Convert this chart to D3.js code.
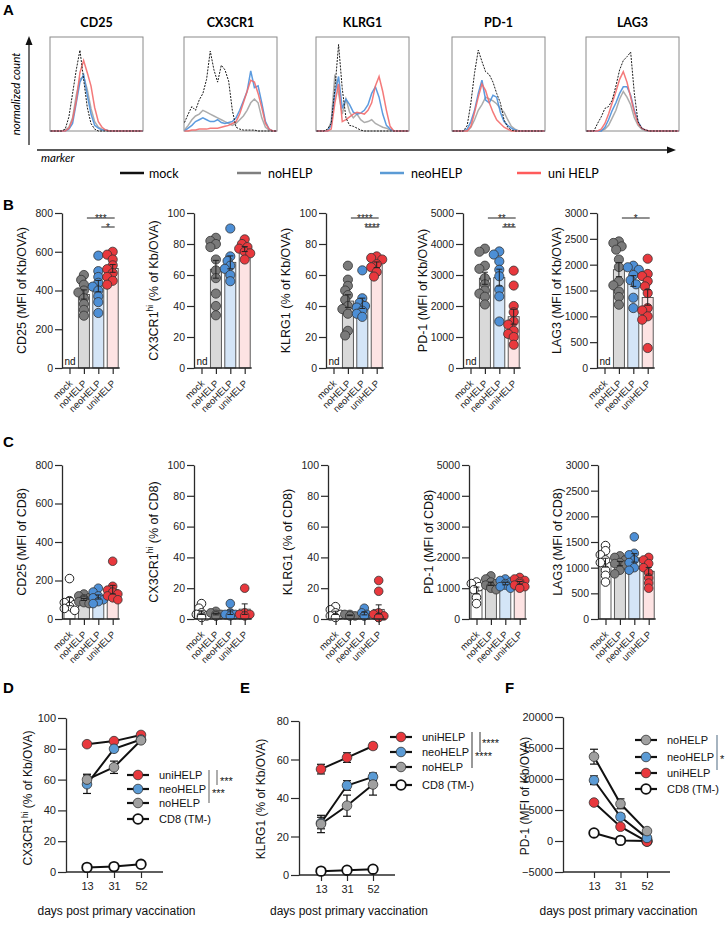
<!DOCTYPE html>
<html><head><meta charset="utf-8">
<script src="https://cdn.jsdelivr.net/npm/d3@7"></script>
<style>
body{margin:0;background:#fff;}
svg{font-family:"Liberation Sans",Arial,sans-serif;}
</style></head><body>
<svg id="fig" width="728" height="925"></svg>
<script>
// ================= DATA =================
const groups = ["mock","noHELP","neoHELP","uniHELP"];
const legendNamesA = ["mock","noHELP","neoHELP","uni HELP"];

// Panel A histograms (normalized count per marker bin)
const histMarkers = ["CD25","CX3CR1","KLRG1","PD-1","LAG3"];
const histBins = [0,4,8,12,16,20,24,28,32,36,40,44,48,52,56,60,64,68,72,76,80,84,88,92,96,100];
const histMock = [
  [0,0,0,0,2,15,40,65,86,55,25,8,2,0,0,0,0,0,0,0,0,0,0,0,0,0],
  [9,18,26,22,33,40,55,85,65,52,70,65,53,22,4,2,1,1,1,1,0,0,0,0,0,0],
  [0,0,0,2,8,45,92,45,14,6,5,3,1,0,0,0,0,0,0,0,0,0,0,0,0,0],
  [0,0,0,0,6,30,62,86,74,63,60,52,40,30,12,4,1,0,0,0,0,0,0,0,0,0],
  [0,0,0,8,15,24,26,33,48,65,75,79,84,40,10,3,1,0,0,0,0,0,0,0,0,0]
];
const histNoHELP = [
  [0,0,0,0,1,4,14,38,55,58,44,24,10,4,2,1,0,0,0,0,0,0,0,0,0,0],
  [1,6,12,16,18,22,20,18,16,14,12,10,8,6,8,12,16,22,30,34,30,14,4,1,0,0],
  [0,0,0,0,10,60,40,18,34,20,14,18,12,9,10,12,8,6,4,3,1,0,0,0,0,0],
  [0,0,0,0,0,4,12,22,28,36,34,32,29,24,20,12,5,2,0,0,0,0,0,0,0,0],
  [0,0,0,0,0,2,6,14,22,34,42,36,28,14,6,2,0,0,0,0,0,0,0,0,0,0]
];
const histNeoHELP = [
  [0,0,0,0,0,2,8,30,52,60,38,18,6,3,1,1,0,0,0,0,0,0,0,0,0,0],
  [0,3,6,10,12,14,12,10,10,12,9,8,9,10,14,22,32,42,64,46,48,30,10,2,0,0],
  [0,0,0,0,6,40,58,24,34,28,20,18,19,22,28,40,47,36,18,6,2,0,0,0,0,0],
  [0,0,0,0,2,10,22,40,54,33,30,38,36,20,10,6,3,1,0,0,0,0,0,0,0,0],
  [0,0,0,0,0,4,12,22,30,40,47,47,38,22,10,3,1,0,0,0,0,0,0,0,0,0]
];
const histUniHELP = [
  [0,0,0,0,0,3,12,32,62,75,62,48,25,10,4,1,0,0,0,0,0,0,0,0,0,0],
  [0,0,1,1,2,2,2,3,3,3,4,5,6,8,10,18,30,42,54,52,40,25,8,2,0,0],
  [0,0,0,0,2,30,50,10,12,15,18,20,19,18,22,30,48,58,42,22,5,0,0,0,0,0],
  [0,0,0,0,0,5,20,36,50,43,30,20,12,8,4,2,0,0,0,0,0,0,0,0,0,0],
  [0,0,0,0,2,8,18,30,42,55,63,52,36,20,8,3,1,0,0,0,0,0,0,0,0,0]
];

// Panel B (Kb/OVA+ cells), order: mock, noHELP, neoHELP, uniHELP (mock not detected)
const bCD25   = [[], [480,455,430,400,390,360,330,300,270], [580,500,470,440,420,400,370,340,284], [600,585,560,530,510,490,470,450,430]];
const bCX3CR1 = [[], [84,82,80,78,70,63,58,48,40,34], [90,72,69,66,64,60,56], [83,80,78,77,75,74,70]];
const bKLRG1  = [[], [66,57,53,50,47,44,40,38,35,24,21], [63,45,42,40,39,37,35,33], [72,71,70,67,65,62,59]];
const bPD1    = [[], [3850,3750,3300,3200,2900,2700,2500,2400,2300,2050], [3760,3660,3440,3170,2960,2530,2310,1500], [3140,2660,2000,1800,1500,1400,1200,1100,1000,750]];
const bLAG3   = [[], [2450,2420,2355,2290,2100,1955,1680,1600,1480,1375,1225], [1980,1950,1900,1800,1700,1620,1360,1160], [2115,1820,1780,1680,1580,1450,1160,1115,1000,935,387]];

// Panel C (total CD8)
const cCD25   = [[210,95,85,75,65,55,45], [130,120,110,105,100,95,90,85,80], [160,140,120,110,100,90,80], [300,170,150,140,130,120,110,100]];
const cCX3CR1 = [[10,7,4,3,2,2,1], [5,4,3,3,2,2], [10,4,3,3,2], [20,4,3,3,2]];
const cKLRG1  = [[8,6,4,3,2,1], [3,3,2,2,2], [7,4,3,2,2], [25,18,4,3,2,1,1,1,1]];
const cPD1    = [[1200,1150,1050,950,700,500], [1400,1300,1200,1150,1100,1050,1000,950], [1300,1250,1200,1150,1100,1050,1000], [1350,1300,1250,1200,1150,1100,1050,1000]];
const cLAG3   = [[1430,1330,1250,1150,1100,950,850,720], [1230,1200,1150,1100,1080,1050,950,880], [1600,1280,1250,1150,1100,1000,950], [1200,1150,1080,1000,900,800,700,600]];

const ticksCD25 = [0,200,400,600,800];
const ticksPct  = [0,20,40,60,80,100];
const ticksPD1  = [0,1000,2000,3000,4000,5000];
const ticksLAG3 = [0,500,1000,1500,2000,2500,3000];

// Panels D-F (time course)
const days = ["13","31","52"];
const dUni = [83,85,89],   dUniErr = [1,1,1];
const dNeo = [57,80,86],   dNeoErr = [6,1.5,1];
const dNo  = [60,68,85.5], dNoErr  = [3.5,4,1];
const dCD8 = [3,3.5,5],    dCD8Err = [0.5,0.5,0.5];
const eUni = [55,61,67],   eUniErr = [2.5,2.5,1.5];
const eNeo = [27,46.5,51], eNeoErr = [3,2.5,2];
const eNo  = [26.5,36,47], eNoErr  = [4.5,5.5,5.5];
const eCD8 = [2,2.5,3],    eCD8Err = [0.5,0.5,1];
const fNo  = [13600,6000,1600], fNoErr  = [1200,800,300];
const fNeo = [9800,3900,500],   fNeoErr = [700,500,200];
const fUni = [6200,2300,-100],  fUniErr = [300,300,100];
const fCD8 = [1300,100,0],      fCD8Err = [200,100,50];

// ================= STYLE =================
const histColor = {mock:"#1c1c1c", noHELP:"#a3a3a3", neoHELP:"#4a90dc", uniHELP:"#f36c6c"};
const legColorA = {mock:"#111", noHELP:"#7f7f7f", neoHELP:"#5b9bd5", uniHELP:"#ff5b5b"};
const ptFill  = {mock:"#ffffff", noHELP:"#7a7a7a", neoHELP:"#4d8fd6", uniHELP:"#e8383d"};
const barFill = {mock:"#ffffff", noHELP:"#d9d9d9", neoHELP:"#d4e5f7", uniHELP:"#fde3e3"};
const lineFill = {noHELP:"#a0a0a0", neoHELP:"#5b9bd5", uniHELP:"#e8383d", CD8:"#ffffff"};
const AX = "#2a2a2a";

const svg = d3.select("#fig");

function panelLetter(t,x,y){
  svg.append("text").attr("x",x).attr("y",y).attr("font-size",15).attr("font-weight","bold").attr("fill","#000").text(t);
}
function yLabel(g,x,cy,parts,size){
  const t = g.append("text").attr("transform",`translate(${x},${cy}) rotate(-90)`)
    .attr("text-anchor","middle").attr("font-size",size).attr("fill","#111");
  parts.forEach((p,i)=>{
    const ts = t.append("tspan").text(p);
    if(i===1) ts.attr("font-size",size*0.68).attr("baseline-shift","super");
  });
}

// ================= PANEL A =================
panelLetter("A",3,15);
const histBoxX = [50,184,316,452,586], boxW = 93, boxTop = 37, boxH = 94;
const histSets = [["noHELP",histNoHELP],["neoHELP",histNeoHELP],["uniHELP",histUniHELP],["mock",histMock]];
histMarkers.forEach((m,i)=>{
  const x = d3.scaleLinear().domain([0,100]).range([histBoxX[i]+0.5, histBoxX[i]+boxW-0.5]);
  const y = d3.scaleLinear().domain([0,100]).range([boxTop+boxH, boxTop]);
  const g = svg.append("g");
  g.append("rect").attr("x",histBoxX[i]).attr("y",boxTop).attr("width",boxW).attr("height",boxH)
    .attr("fill","#fff").attr("stroke","#8a8a8a").attr("stroke-width",1);
  const line = d3.line().x((d,j)=>x(histBins[j])).y(d=>y(d)).curve(d3.curveLinear);
  histSets.forEach(([name,arr])=>{
    g.append("path").datum(arr[i]).attr("d",line).attr("fill","none")
      .attr("stroke",histColor[name]).attr("stroke-width",name==="mock"?1:1.5)
      .attr("stroke-dasharray",name==="mock"?"2,1.2":null).attr("opacity",name==="mock"?1:0.9);
  });
  g.append("text").attr("x",histBoxX[i]+boxW/2).attr("y",27).attr("text-anchor","middle")
    .attr("font-family","Lato, 'Open Sans', sans-serif").attr("font-weight","bold").attr("font-size",12.5).text(m);
});
// axes arrows
svg.append("line").attr("x1",29).attr("x2",29).attr("y1",145).attr("y2",44).attr("stroke","#222").attr("stroke-width",1.3);
svg.append("path").attr("d","M29,36 L25.5,45 L32.5,45 Z").attr("fill","#111");
svg.append("line").attr("x1",37).attr("x2",668).attr("y1",150).attr("y2",150).attr("stroke","#222").attr("stroke-width",1.3);
svg.append("path").attr("d","M676,150 L667,146.5 L667,153.5 Z").attr("fill","#111");
svg.append("text").attr("transform","translate(20,94) rotate(-90)").attr("text-anchor","middle")
  .attr("font-family","Lato, 'Open Sans', sans-serif").attr("font-style","italic").attr("font-size",11.5).text("normalized count");
svg.append("text").attr("x",41).attr("y",162).attr("font-family","Lato, 'Open Sans', sans-serif")
  .attr("font-style","italic").attr("font-size",11.5).text("marker");
// legend A
const legAx = [120,237,380,517];
groups.forEach((grp,i)=>{
  svg.append("line").attr("x1",legAx[i]).attr("x2",legAx[i]+24).attr("y1",173).attr("y2",173)
    .attr("stroke",legColorA[grp]).attr("stroke-width",2.5);
  svg.append("text").attr("x",legAx[i]+(i===0?29:31)).attr("y",177.5).attr("font-family","Lato, 'Open Sans', sans-serif")
    .attr("font-size",12.5).text(legendNamesA[i]);
});

// ================= PANELS B & C =================
function dodge(vals,y,r){
  const placed=[], out=[];
  const order = vals.map((v,i)=>i).sort((a,b)=>vals[b]-vals[a]);
  const offs = [0,-0.6,0.6,-1.2,1.2].map(k=>k*r);
  order.forEach(i=>{
    const py=y(vals[i]); let best=0;
    for(const o of offs){ if(placed.every(p=>Math.hypot(p.x-o,p.y-py)>=r*1.15)){best=o;break;} }
    placed.push({x:best,y:py}); out[i]=best;
  });
  return out;
}
function barChart(s){
  const g = svg.append("g");
  const y = d3.scaleLinear().domain([s.ticks[0], s.ticks[s.ticks.length-1]]).range([s.y0, s.yTop]);
  const x = d3.scalePoint().domain(groups).range([s.ax+7.5, s.ax+7.5+43.2]);
  const r = s.r;
  groups.forEach((grp,i)=>{
    const v = s.vals[i]; if(!v.length) return;
    const m = d3.mean(v);
    g.append("rect").attr("x",x(grp)-5.5).attr("width",11).attr("y",y(m)).attr("height",s.y0-y(m))
      .attr("fill",barFill[grp]).attr("stroke","#4a4a4a").attr("stroke-width",0.9);
  });
  groups.forEach((grp,i)=>{
    const v = s.vals[i]; if(!v.length) return;
    const dx = dodge(v,y,r);
    g.selectAll(null).data(v).join("circle").attr("cx",(d,j)=>x(grp)+dx[j]).attr("cy",d=>y(d)).attr("r",r)
      .attr("fill",ptFill[grp]).attr("stroke",grp==="mock"?"#222":"#333").attr("stroke-width",grp==="mock"?1:0.8);
  });
  groups.forEach((grp,i)=>{
    const v = s.vals[i]; if(v.length<2) return;
    const m = d3.mean(v), se = d3.deviation(v)/Math.sqrt(v.length);
    const xc = x(grp);
    g.append("line").attr("x1",xc).attr("x2",xc).attr("y1",y(m-se)).attr("y2",y(m+se)).attr("stroke","#222").attr("stroke-width",1);
    [m-se,m+se].forEach(e=>g.append("line").attr("x1",xc-3).attr("x2",xc+3).attr("y1",y(e)).attr("y2",y(e)).attr("stroke","#222").attr("stroke-width",1));
  });
  // y axis
  const ya = g.append("g").attr("transform",`translate(${s.ax},0)`)
    .call(d3.axisLeft(y).tickValues(s.ticks).tickSize(7).tickSizeOuter(0).tickPadding(2).tickFormat(d3.format("d")));
  ya.attr("font-family",null).attr("font-size",null);
  ya.select(".domain").attr("stroke",AX).attr("stroke-width",1.3);
  ya.selectAll(".tick line").attr("stroke",AX).attr("stroke-width",1.2);
  ya.selectAll("text").attr("font-size",10.5).attr("fill","#222");
  // x axis
  const xa = g.append("g").attr("transform",`translate(0,${s.y0})`).call(d3.axisBottom(x).tickSize(6).tickSizeOuter(0));
  xa.attr("font-family",null).attr("font-size",null);
  xa.select(".domain").remove();
  xa.selectAll(".tick line").attr("stroke",AX).attr("stroke-width",1.2);
  xa.selectAll("text").attr("x",0).attr("y",0).attr("dy",0).attr("transform","translate(3,16) rotate(-45)")
    .attr("text-anchor","end").attr("font-size",9.5).attr("fill","#222");
  g.append("line").attr("x1",s.ax).attr("x2",x(groups[3])+7).attr("y1",s.y0).attr("y2",s.y0).attr("stroke",AX).attr("stroke-width",1.3);
  if(s.nd) g.append("text").attr("x",s.ax+2.5).attr("y",s.y0-3).attr("font-size",10).attr("fill","#111").text("nd");
  // significance
  (s.sig||[]).forEach(sg=>{
    const ly = s.yTop + 5 + sg.level*9;
    const x1 = x(sg.from)+3, x2 = x(sg.to)+2;
    g.append("line").attr("x1",x1).attr("x2",x2).attr("y1",ly).attr("y2",ly).attr("stroke","#222").attr("stroke-width",1);
    g.append("text").attr("x",(x1+x2)/2).attr("y",ly+3.5).attr("text-anchor","middle").attr("font-size",10).attr("fill","#222").text(sg.label);
  });
  yLabel(g, s.ax-36, (s.yTop+s.y0)/2, s.label, 12.5);
}

panelLetter("B",3,210);
const bAx = [62,194,326,463,597];
const bTop = 213, bZero = 368;
barChart({ax:bAx[0],yTop:bTop,y0:bZero,ticks:ticksCD25,vals:bCD25,r:4.6,nd:true,label:["CD25 (MFI of Kb/OVA)"],
  sig:[{from:"noHELP",to:"uniHELP",label:"***",level:0},{from:"neoHELP",to:"uniHELP",label:"*",level:1}]});
barChart({ax:bAx[1],yTop:bTop,y0:bZero,ticks:ticksPct,vals:bCX3CR1,r:4.6,nd:true,label:["CX3CR1","hi"," (% of Kb/OVA)"]});
barChart({ax:bAx[2],yTop:bTop,y0:bZero,ticks:ticksPct,vals:bKLRG1,r:4.6,nd:true,label:["KLRG1 (% of Kb/OVA)"],
  sig:[{from:"noHELP",to:"uniHELP",label:"****",level:0},{from:"neoHELP",to:"uniHELP",label:"****",level:1}]});
barChart({ax:bAx[3],yTop:bTop,y0:bZero,ticks:ticksPD1,vals:bPD1,r:4.6,nd:true,label:["PD-1 (MFI of Kb/OVA)"],
  sig:[{from:"noHELP",to:"uniHELP",label:"**",level:0},{from:"neoHELP",to:"uniHELP",label:"***",level:1}]});
barChart({ax:bAx[4],yTop:bTop,y0:bZero,ticks:ticksLAG3,vals:bLAG3,r:4.6,nd:true,label:["LAG3 (MFI of Kb/OVA)"],
  sig:[{from:"noHELP",to:"uniHELP",label:"*",level:0}]});

panelLetter("C",3,447);
const cAx = [62,194,328,469,598];
const cTop = 465, cZero = 619;
barChart({ax:cAx[0],yTop:cTop,y0:cZero,ticks:ticksCD25,vals:cCD25,r:4.3,label:["CD25 (MFI of CD8)"]});
barChart({ax:cAx[1],yTop:cTop,y0:cZero,ticks:ticksPct,vals:cCX3CR1,r:4.3,label:["CX3CR1","hi"," (% of CD8)"]});
barChart({ax:cAx[2],yTop:cTop,y0:cZero,ticks:ticksPct,vals:cKLRG1,r:4.3,label:["KLRG1 (% of CD8)"]});
barChart({ax:cAx[3],yTop:cTop,y0:cZero,ticks:ticksPD1,vals:cPD1,r:4.3,label:["PD-1 (MFI of CD8)"]});
barChart({ax:cAx[4],yTop:cTop,y0:cZero,ticks:ticksLAG3,vals:cLAG3,r:4.3,label:["LAG3 (MFI of CD8)"]});

// ================= PANELS D-F =================
function lineChart(s){
  const g = svg.append("g");
  const y = d3.scaleLinear().domain([s.ticks[0], s.ticks[s.ticks.length-1]]).range([s.y0, s.yTop]);
  const x = d3.scalePoint().domain(days).range(s.xr);
  const ya = g.append("g").attr("transform",`translate(${s.ax},0)`)
    .call(d3.axisLeft(y).tickValues(s.ticks).tickSize(8).tickSizeOuter(0).tickPadding(2).tickFormat(d3.format("d")));
  ya.attr("font-family",null).attr("font-size",null);
  ya.select(".domain").attr("stroke",AX).attr("stroke-width",1.3);
  ya.selectAll(".tick line").attr("stroke",AX).attr("stroke-width",1.2);
  ya.selectAll("text").attr("font-size",11).attr("fill","#222");
  const xa = g.append("g").attr("transform",`translate(0,${s.y0})`).call(d3.axisBottom(x).tickSize(6).tickSizeOuter(0).tickPadding(4));
  xa.attr("font-family",null).attr("font-size",null);
  xa.select(".domain").remove();
  xa.selectAll(".tick line").attr("stroke",AX).attr("stroke-width",1.2);
  xa.selectAll("text").attr("font-size",11).attr("fill","#222");
  g.append("line").attr("x1",s.ax).attr("x2",s.axEnd).attr("y1",s.y0).attr("y2",s.y0).attr("stroke",AX).attr("stroke-width",1.3);
  g.append("text").attr("x",(s.ax+s.axEnd)/2+2).attr("y",915).attr("text-anchor","middle").attr("font-size",12).attr("fill","#111")
    .text("days post primary vaccination");
  yLabel(g, s.ax-34, s.labelY, s.label, 12);
  const line = d3.line().x((d,i)=>x(days[i])).y(d=>y(d));
  s.series.forEach(se=>g.append("path").datum(se.vals).attr("d",line).attr("fill","none").attr("stroke","#111").attr("stroke-width",2));
  s.series.forEach(se=>{
    se.vals.forEach((v,i)=>{
      const xc=x(days[i]), e=se.err[i];
      g.append("line").attr("x1",xc).attr("x2",xc).attr("y1",y(v-e)).attr("y2",y(v+e)).attr("stroke","#111").attr("stroke-width",1.2);
      [v-e,v+e].forEach(t=>g.append("line").attr("x1",xc-4).attr("x2",xc+4).attr("y1",y(t)).attr("y2",y(t)).attr("stroke","#111").attr("stroke-width",1.2));
    });
  });
  s.series.forEach(se=>{
    g.selectAll(null).data(se.vals).join("circle").attr("cx",(d,i)=>x(days[i])).attr("cy",d=>y(d)).attr("r",4.8)
      .attr("fill",lineFill[se.key]).attr("stroke",se.key==="CD8"?"#111":"#333").attr("stroke-width",se.key==="CD8"?1.8:0.8);
  });
  // legend
  s.legend.forEach((se,k)=>{
    const ry = s.rows[k], L = s.legX;
    g.append("line").attr("x1",L).attr("x2",L+22).attr("y1",ry).attr("y2",ry).attr("stroke","#111").attr("stroke-width",2.2);
    g.append("circle").attr("cx",L+11).attr("cy",ry).attr("r",4.8).attr("fill",lineFill[se.key])
      .attr("stroke",se.key==="CD8"?"#111":"#333").attr("stroke-width",se.key==="CD8"?1.8:0.8);
    g.append("text").attr("x",L+32).attr("y",ry+4).attr("font-size",11).attr("fill","#111").text(se.name);
  });
  s.sig.forEach(sg=>{
    g.append("line").attr("x1",s.legX+sg.dx).attr("x2",s.legX+sg.dx).attr("y1",s.rows[sg.a]-5).attr("y2",s.rows[sg.b]+sg.b2)
      .attr("stroke",s.sigColor).attr("stroke-width",1.2);
    g.append("text").attr("x",s.legX+sg.tx).attr("y",s.rows[sg.trow]+sg.ty).attr("font-size",11).attr("fill","#111").text(sg.label);
  });
}

panelLetter("D",3,693);
const dSeries = [
  {key:"uniHELP",name:"uniHELP",vals:dUni,err:dUniErr},
  {key:"neoHELP",name:"neoHELP",vals:dNeo,err:dNeoErr},
  {key:"noHELP",name:"noHELP",vals:dNo,err:dNoErr},
  {key:"CD8",name:"CD8 (TM-)",vals:dCD8,err:dCD8Err}];
lineChart({ax:66,yTop:718,y0:872,ticks:[0,20,40,60,80,100],xr:[87,141],axEnd:163,labelY:798,
  label:["CX3CR1","hi"," (% of Kb/OVA)"],series:[dSeries[3],dSeries[0],dSeries[1],dSeries[2]],legend:dSeries,
  legX:127,rows:[775,789,803,819],sigColor:"#777",
  sig:[{dx:82,a:0,b:2,b2:0,label:"***",tx:85,trow:1,ty:8},{dx:90,a:0,b:1,b2:-4,label:"***",tx:93,trow:0,ty:10}]});

panelLetter("E",240,693);
const eSeries = [
  {key:"uniHELP",name:"uniHELP",vals:eUni,err:eUniErr},
  {key:"neoHELP",name:"neoHELP",vals:eNeo,err:eNeoErr},
  {key:"noHELP",name:"noHELP",vals:eNo,err:eNoErr},
  {key:"CD8",name:"CD8 (TM-)",vals:eCD8,err:eCD8Err}];
lineChart({ax:299,yTop:721,y0:875,ticks:[0,20,40,60,80],xr:[321,373],axEnd:395,labelY:799,
  label:["KLRG1 (% of Kb/OVA)"],series:[eSeries[3],eSeries[0],eSeries[1],eSeries[2]],legend:eSeries,
  legX:390,rows:[737,752,767,785],sigColor:"#555",
  sig:[{dx:82,a:0,b:2,b2:1,label:"****",tx:85,trow:1,ty:8},{dx:90,a:0,b:1,b2:0,label:"****",tx:92,trow:0,ty:10}]});

panelLetter("F",505,693);
const fSeries = [
  {key:"noHELP",name:"noHELP",vals:fNo,err:fNoErr},
  {key:"neoHELP",name:"neoHELP",vals:fNeo,err:fNeoErr},
  {key:"uniHELP",name:"uniHELP",vals:fUni,err:fUniErr},
  {key:"CD8",name:"CD8 (TM-)",vals:fCD8,err:fCD8Err}];
lineChart({ax:563,yTop:717,y0:872,ticks:[-5000,0,5000,10000,15000,20000],xr:[594,647],axEnd:670,labelY:796,
  label:["PD-1 (MFI of Kb/OVA)"],series:[fSeries[3],fSeries[2],fSeries[1],fSeries[0]],legend:fSeries,
  legX:635,rows:[740,757,773,789],sigColor:"#6b8296",
  sig:[{dx:82,a:0,b:2,b2:-3,label:"*",tx:85,trow:1,ty:6}]});
</script>
</body></html>
